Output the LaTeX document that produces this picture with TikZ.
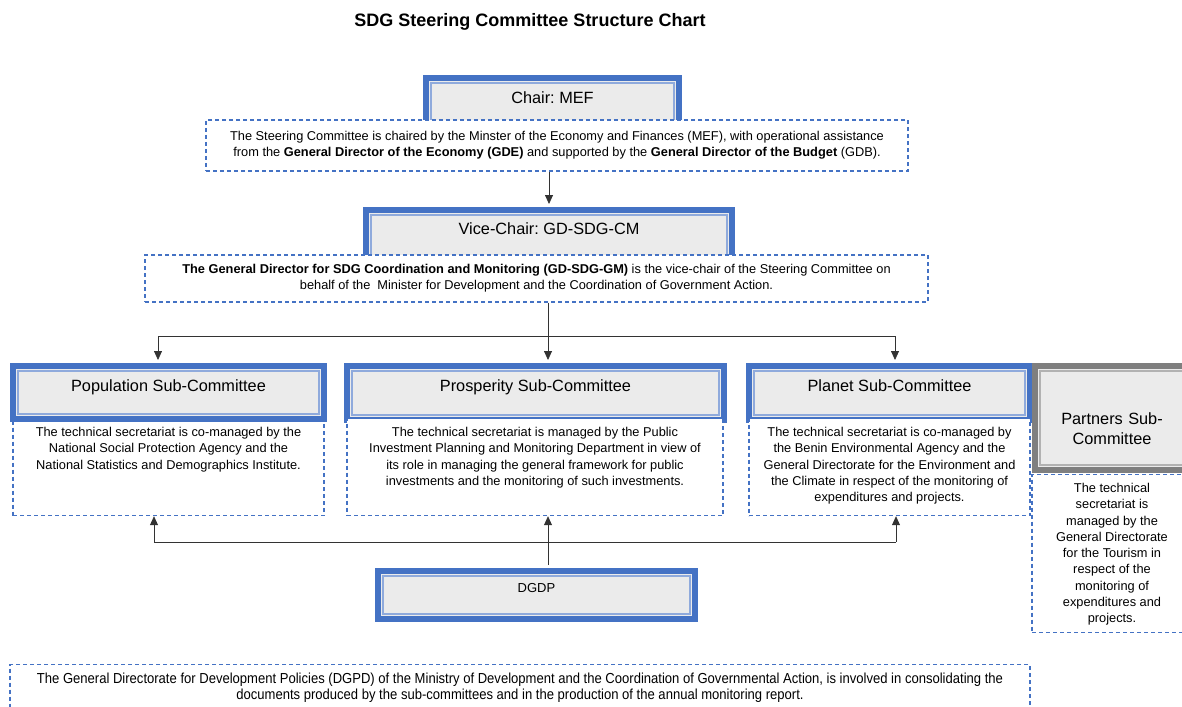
\documentclass[tikz,border=0pt]{standalone}
\usepackage{fontspec}
\setmainfont{Liberation Sans}
\newfontfamily\narrowfont[FakeStretch=0.9]{Liberation Sans}
\usetikzlibrary{arrows.meta}
\definecolor{boxblue}{HTML}{4472C4}
\definecolor{boxgray}{HTML}{EBEBEB}
\definecolor{frgray}{HTML}{7F7F7F}
\definecolor{linkgray}{HTML}{333333}
\frenchspacing

\begin{document}
\begin{tikzpicture}[x=1pt,y=-1pt,
    headbox/.style={draw=#1, line width=6pt, fill=boxgray, inner sep=0pt,
      text height=11.7pt, align=center, font=\fontsize{16.3}{20}\selectfont,
      path picture={\draw[#1!60, line width=1.5pt]
        ([shift={(5pt,-5pt)}]path picture bounding box.north west) rectangle
        ([shift={(-5pt,5pt)}]path picture bounding box.south east);}},
    headbox/.default=boxblue,
    memo/.style={draw=boxblue, line width=1.2pt, dash pattern=on 4pt off 3pt,
      fill=white, inner xsep=0pt, inner ysep=8pt, align=flush center,
      font=\fontsize{12.8}{16.25}\selectfont},
    subnote/.style={memo, anchor=north, text height=10pt, text width=#1},
    link/.style={draw=linkgray, line width=0.8pt},
    arr/.style={link, -{Triangle[length=9pt,width=8pt]}}]
  \useasboundingbox (0,0) rectangle (1182,706);
  \node[font=\bfseries\fontsize{18}{22}\selectfont] (title) at (530,22)
    {SDG Steering Committee Structure Chart};

  \node[headbox, minimum width=253pt, minimum height=50pt, text depth=10pt]
    (chair) at (552.5,103) {Chair: MEF};
  \node[memo, minimum width=702pt, minimum height=51pt] (chairnote) at (557,145.5)
    {The Steering Committee is chaired by the Minster of the Economy and Finances (MEF), with operational assistance\\
     from the \textbf{General Director of the Economy (GDE)} and supported by the \textbf{General Director of the Budget} (GDB).};

  \node[headbox, minimum width=366pt, minimum height=52pt, text depth=14pt]
    (vice) at (549,236) {Vice-Chair: GD-SDG-CM};
  \node[memo, minimum width=783pt, minimum height=47pt] (vicenote) at (536.5,278.5)
    {\textbf{The General Director for SDG Coordination and Monitoring (GD-SDG-GM)} is the vice-chair of the Steering Committee on\\
     behalf of the\ \ Minister for Development and the Coordination of Government Action.};

  \node[subnote=311pt, text depth=71pt] (popnote) at (168.5,418)
    {The technical secretariat is co-managed by the\\ National Social Protection Agency and the\\
     National Statistics and Demographics Institute.};
  \node[headbox, minimum width=311pt, minimum height=53pt, text depth=13pt]
    (pop) at (168.5,392.5) {Population Sub-Committee};

  \node[headbox, minimum width=377pt, minimum height=54pt, text depth=14pt]
    (pros) at (535.5,393) {Prosperity Sub-Committee};
  \node[subnote=376pt, text depth=71pt] (prosnote) at (535,418)
    {The technical secretariat is managed by the Public\\ Investment Planning and Monitoring Department in view of\\
     its role in managing the general framework for public\\ investments and the monitoring of such investments.};

  \node[headbox, minimum width=281pt, minimum height=54pt, text depth=14pt]
    (planet) at (889.5,393) {Planet Sub-Committee};
  \node[subnote=281pt, text depth=71pt] (planetnote) at (889.5,418)
    {The technical secretariat is co-managed by\\ the Benin Environmental Agency and the\\
     General Directorate for the Environment and\\ the Climate in respect of the monitoring of\\
     expenditures and projects.};

  \node[headbox=frgray, minimum width=154pt, minimum height=104pt, text width=154pt,
    text height=36pt, text depth=23pt] (partners) at (1112,418) {Partners Sub-\\Committee};
  \node[subnote=160pt, text depth=132pt] (partnersnote) at (1112,474)
    {The technical\\ secretariat is\\ managed by the\\ General Directorate\\ for the Tourism in\\
     respect of the\\ monitoring of\\ expenditures and\\ projects.};

  \node[headbox, minimum width=317pt, minimum height=48pt, font=\fontsize{13}{15}\selectfont,
    text height=9.4pt, text depth=14pt] (dgdp) at (536.5,595) {DGDP};
  \node[memo, text width=1020pt, anchor=north, text height=11pt, text depth=50pt,
    font=\narrowfont\fontsize{14.5}{16}\selectfont] (dgpdnote) at (520,664)
    {The General Directorate for Development Policies (DGPD) of the Ministry of Development and the Coordination of Governmental Action, is involved in consolidating the\\
     documents produced by the sub-committees and in the production of the annual monitoring report.};

  \draw[arr, shorten >=3pt] (vice.north |- chairnote.south) -- (vice.north);
  \coordinate (split) at (548,336);
  \coordinate (lsplit) at (158,336);
  \coordinate (rsplit) at (895,336);
  \draw[link] (vicenote.south -| split) -- (split);
  \draw[link] (lsplit) -- (rsplit);
  \draw[arr, shorten >=3pt] (lsplit) -- (lsplit |- pop.north);
  \draw[arr, shorten >=3pt] (split) -- (split |- pros.north);
  \draw[arr, shorten >=3pt] (rsplit) -- (rsplit |- planet.north);

  \coordinate (ljoin) at (154,542);
  \coordinate (rjoin) at (896,542);
  \draw[link] (ljoin) -- (rjoin);
  \draw[arr] (ljoin) -- (ljoin |- popnote.south);
  \draw[arr] (rjoin) -- (rjoin |- planetnote.south);
  \draw[arr, shorten <=3pt] (dgdp.north -| split) -- (split |- prosnote.south);
\end{tikzpicture}
\end{document}
